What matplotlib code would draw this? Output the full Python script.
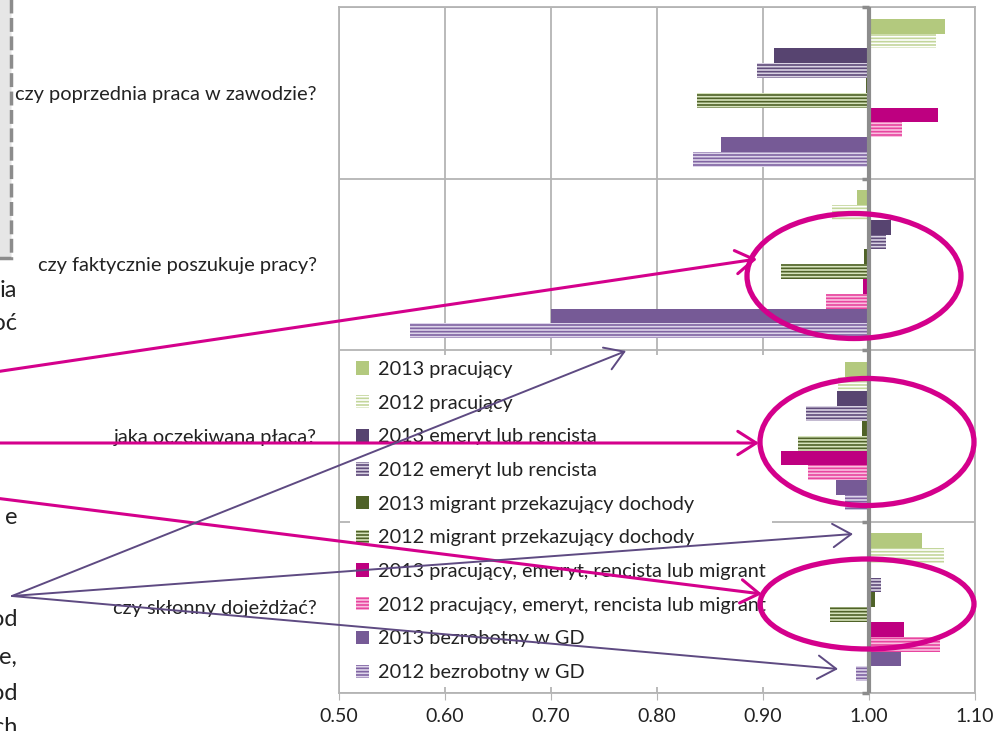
import numpy as np
import matplotlib.pyplot as plt
from matplotlib.patches import Ellipse, FancyArrowPatch, Rectangle

plt.rcParams['font.family'] = ['Lato', 'DejaVu Sans']
plt.rcParams['hatch.linewidth'] = 1.2

questions = ["czy poprzednia praca w zawodzie?",
             "czy faktycznie poszukuje pracy?",
             "jaka oczekiwana płaca?",
             "czy skłonny dojeżdżać?"]

# ratios for each question, top to bottom
pracujacy_2013 = [1.072, 0.989, 0.977, 1.050]
pracujacy_2012 = [1.063, 0.965, 0.971, 1.071]
emeryt_2013 = [0.910, 1.021, 0.970, 1.001]
emeryt_2012 = [0.894, 1.016, 0.941, 1.011]
migrant_2013 = [0.997, 0.995, 0.993, 1.006]
migrant_2012 = [0.838, 0.917, 0.933, 0.963]
laczny_2013 = [1.065, 0.994, 0.917, 1.033]
laczny_2012 = [1.031, 0.959, 0.942, 1.067]
bezrobotny_2013 = [0.860, 0.700, 0.969, 1.030]
bezrobotny_2012 = [0.834, 0.567, 0.977, 0.988]

series = [
    ("2013 pracujący", pracujacy_2013),
    ("2012 pracujący", pracujacy_2012),
    ("2013 emeryt lub rencista", emeryt_2013),
    ("2012 emeryt lub rencista", emeryt_2012),
    ("2013 migrant przekazujący dochody", migrant_2013),
    ("2012 migrant przekazujący dochody", migrant_2012),
    ("2013 pracujący, emeryt, rencista lub migrant", laczny_2013),
    ("2012 pracujący, emeryt, rencista lub migrant", laczny_2012),
    ("2013 bezrobotny w GD", bezrobotny_2013),
    ("2012 bezrobotny w GD", bezrobotny_2012),
]

# (face, stripe) per series; solid bars have no stripe
styles = [
    ("#b3c97e", None), ("#ffffff", "#c3d69b"),
    ("#574470", None), ("#d9d2e3", "#5f4b7a"),
    ("#4f6228", None), ("#d7e4bd", "#4f6228"),
    ("#be0080", None), ("#f9c0e0", "#e8459f"),
    ("#765a96", None), ("#ddd5ea", "#8064a2"),
]

W, H = 1005, 731
fig = plt.figure(figsize=(W / 100, H / 100), dpi=100)
ax = fig.add_axes([339 / W, 1 - 693 / H, (975 - 339) / W, (693 - 7) / H])

n = len(series)
h = 1 / (n + 1.59)
edge = (1 - n * h) / 2
ypos = np.arange(len(questions))
for i, ((label, vals), (face, stripe)) in enumerate(zip(series, styles)):
    y = ypos - 0.5 + edge + (i + 0.5) * h
    widths = np.array(vals) - 1.0
    if stripe is None:
        ax.barh(y, widths, left=1.0, height=h, color=face, label=label,
                zorder=2)
    else:
        ax.barh(y, widths, left=1.0, height=h, facecolor=face,
                edgecolor=stripe, hatch='-----', linewidth=0, label=label,
                zorder=2)

grid_c = '#b4b4b4'
ax.set_xlim(0.5, 1.1)
ax.set_ylim(3.5, -0.5)
xt = np.arange(0.5, 1.101, 0.1)
ax.set_xticks(xt)
ax.set_xticklabels([f"{v:.2f}" for v in xt], fontsize=14, color='#222222')
ax.tick_params(axis='x', length=5, color=grid_c, pad=6)
ax.xaxis.grid(True, color=grid_c, lw=1.3)
ax.set_yticks(ypos)
ax.set_yticklabels(questions, fontsize=14.4, color='#222222')
ax.tick_params(axis='y', length=0, pad=16)
bounds = np.arange(-0.5, 3.6, 1.0)
ax.set_yticks(bounds, minor=True)
ax.tick_params(axis='y', which='minor', length=0)
ax.yaxis.grid(True, which='minor', color=grid_c, lw=1.3)
ax.set_axisbelow(True)
for s in ax.spines.values():
    s.set_color(grid_c)
    s.set_linewidth(1.3)

# vertical axis crossing at 1.00 with small tick nubs
ax.axvline(1.0, color='#8c8c8c', lw=3, zorder=4)
for b in bounds:
    ax.plot([0.9935, 1.0], [b, b], color='#8c8c8c', lw=2.5, zorder=4,
            solid_capstyle='butt', clip_on=False)

leg = ax.legend(loc='upper left', bbox_to_anchor=(11 / 636, 338 / 686),
                fontsize=14.3, frameon=True, fancybox=False, edgecolor='none',
                facecolor='white', framealpha=1, handlelength=0.65,
                handleheight=0.65, handletextpad=0.45, labelspacing=0.84,
                borderpad=0.3, borderaxespad=0)
leg.set_zorder(5)
for t in leg.get_texts():
    t.set_color('#222222')


def fp(x, y):
    return (x / W, 1 - y / H)


mag = '#d4008c'
pur = '#5e4a82'

# dashed text box edge at the top left
fig.add_artist(Rectangle(fp(-20, 258), 31 / W, 278 / H, transform=fig.transFigure,
                         facecolor='#e6e6e6', edgecolor='#8c8c8c', lw=2.5,
                         linestyle=(0, (4, 1.3)), zorder=6))

for txt, y in [("ia", 290), ("moć", 324), ("e", 518), ("od", 620),
               ("e,", 657), ("od", 693), ("ch", 728)]:
    fig.text(17 / W, 1 - y / H, txt, ha='right', va='center', fontsize=17,
             color='#222222')

for cx, cy, ew, eh in [(854, 276, 214, 125), (867, 442, 214, 127),
                       (867, 604, 214, 90)]:
    fig.add_artist(Ellipse(fp(cx, cy), ew / W, eh / H, transform=fig.transFigure,
                           fill=False, edgecolor=mag, lw=3.8, zorder=8))

for (x0, y0), (x1, y1) in [((-5, 372), (757, 259)), ((-5, 443), (759, 443)),
                           ((-5, 498), (762, 594))]:
    fig.add_artist(FancyArrowPatch(fp(x0, y0), fp(x1, y1), transform=fig.transFigure,
                                   arrowstyle='->,head_length=0.55,head_width=0.35',
                                   mutation_scale=24, color=mag, lw=2.2,
                                   shrinkA=0, shrinkB=0, zorder=9))

for x1, y1 in [(626, 351), (853, 534), (838, 669)]:
    fig.add_artist(FancyArrowPatch(fp(12, 596), fp(x1, y1), transform=fig.transFigure,
                                   arrowstyle='->,head_length=0.55,head_width=0.35',
                                   mutation_scale=24, color=pur, lw=1.4,
                                   shrinkA=0, shrinkB=0, zorder=9))

fig.savefig('out.png', dpi=100)
